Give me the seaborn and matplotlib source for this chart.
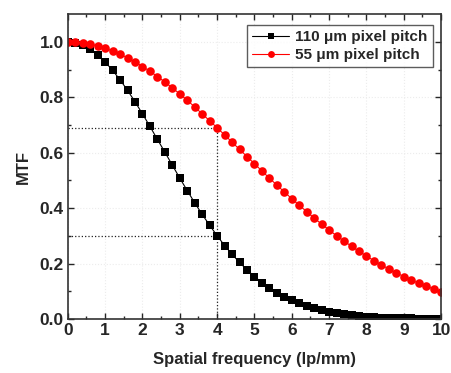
import numpy as np
import pandas as pd
import matplotlib
matplotlib.use("Agg")
import matplotlib.pyplot as plt
import seaborn as sns

# Spatial frequency (lp/mm), sampled every 0.2
freq = [round(0.2 * i, 1) for i in range(51)]

# MTF for 110 um pixel pitch (black squares)
mtf_110 = [1.000, 0.997, 0.988, 0.973, 0.953, 0.928, 0.897, 0.863, 0.825, 0.784,
           0.740, 0.695, 0.648, 0.602, 0.555, 0.508, 0.463, 0.419, 0.377, 0.338,
           0.300, 0.265, 0.233, 0.204, 0.177, 0.153, 0.131, 0.112, 0.095, 0.080,
           0.067, 0.056, 0.046, 0.038, 0.031, 0.025, 0.020, 0.016, 0.013, 0.010,
           0.008, 0.006, 0.005, 0.004, 0.003, 0.002, 0.002, 0.001, 0.001, 0.001,
           0.000]

# MTF for 55 um pixel pitch (red circles)
mtf_55 = [1.000, 0.999, 0.996, 0.992, 0.985, 0.977, 0.967, 0.956, 0.942, 0.928,
          0.911, 0.894, 0.875, 0.855, 0.834, 0.812, 0.789, 0.765, 0.740, 0.715,
          0.690, 0.664, 0.638, 0.612, 0.586, 0.560, 0.534, 0.508, 0.483, 0.458,
          0.434, 0.410, 0.387, 0.364, 0.342, 0.321, 0.300, 0.281, 0.262, 0.244,
          0.227, 0.210, 0.195, 0.180, 0.166, 0.153, 0.140, 0.129, 0.118, 0.108,
          0.098]

labels = ["110 \u03bcm pixel pitch", "55 \u03bcm pixel pitch"]

# reference frequency and the MTF values read there
ref_freq = 4
ref_mtf = [0.69, 0.30]

df_110 = pd.DataFrame({"freq": freq, "mtf": mtf_110})
df_55 = pd.DataFrame({"freq": freq, "mtf": mtf_55})

sns.set_style("ticks")
plt.rcParams["font.family"] = ["Liberation Sans", "DejaVu Sans"]
plt.rcParams["font.weight"] = "bold"

fig = plt.figure(figsize=(4.52, 3.73), dpi=100)
ax = fig.add_axes([0.150, 0.145, 0.826, 0.817])

# faint grid
ax.grid(True, color="#ececec", linestyle=":", linewidth=0.8)

sns.lineplot(data=df_110, x="freq", y="mtf", color="black", marker="s",
             markersize=5.2, markeredgewidth=0, linewidth=0.8, label=labels[0], ax=ax)
sns.lineplot(data=df_55, x="freq", y="mtf", color="red", marker="o",
             markersize=6.2, markeredgewidth=0, linewidth=0.8, label=labels[1], ax=ax)

# dotted guide lines
for m in ref_mtf:
    ax.plot([0, ref_freq], [m, m], color="#222222", linestyle=":", linewidth=0.9, zorder=1)
ax.plot([ref_freq, ref_freq], [0, max(ref_mtf)], color="#222222", linestyle=":",
        linewidth=0.9, zorder=1)

ax.set_xlim(0, 10)
ax.set_ylim(0, 1.1)
ax.set_xticks(range(0, 11))
ax.set_yticks([0.0, 0.2, 0.4, 0.6, 0.8, 1.0])
ax.set_yticklabels(["0.0", "0.2", "0.4", "0.6", "0.8", "1.0"])
ax.set_xticks(np.arange(0.5, 10, 1), minor=True)
ax.set_yticks(np.arange(0.1, 1.1, 0.2), minor=True)
ax.tick_params(which="both", direction="in", top=True, right=True, width=1.0)
ax.tick_params(which="major", length=4, labelsize=12.5, pad=3)
ax.tick_params(which="minor", length=2.5)
for lab in ax.get_xticklabels() + ax.get_yticklabels():
    lab.set_fontweight("bold")
for sp in ax.spines.values():
    sp.set_linewidth(1.2)
    sp.set_color("#333333")

ax.set_xlabel("Spatial frequency (lp/mm)", fontsize=12, fontweight="bold", labelpad=10)
ax.set_ylabel("MTF", fontsize=12, fontweight="bold", labelpad=6)

leg = ax.legend(loc="upper right", bbox_to_anchor=(0.978, 0.965), borderaxespad=0,
                fontsize=11, frameon=True, fancybox=False, edgecolor="#333333",
                handlelength=2.4, handletextpad=0.4, borderpad=0.35,
                labelspacing=0.25, markerscale=0.8)
leg.get_frame().set_linewidth(1.0)
for t in leg.get_texts():
    t.set_fontweight("bold")

fig.savefig("out.png", dpi=100)
